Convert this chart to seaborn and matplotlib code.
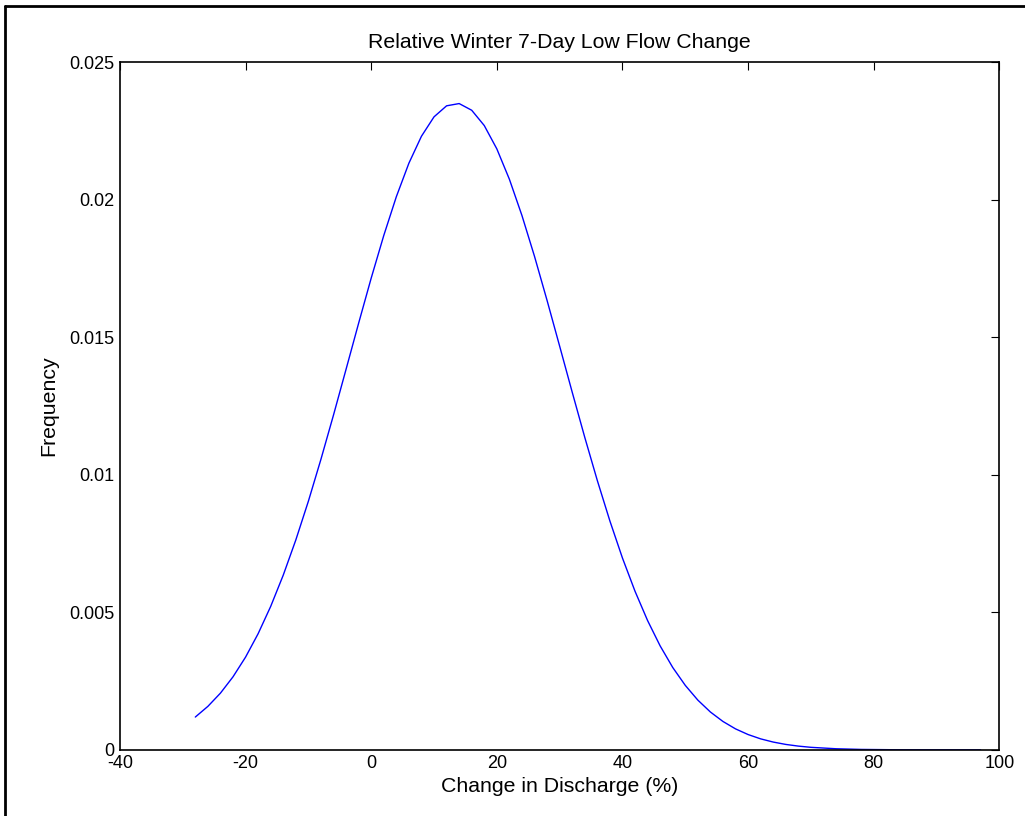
import matplotlib
matplotlib.use("Agg")
import matplotlib.pyplot as plt
import seaborn as sns
import pandas as pd
from matplotlib.lines import Line2D

# values
change_pct = [-28, -26, -24, -22, -20, -18, -16, -14, -12, -10, -8, -6, -4, -2,
              0, 2, 4, 6, 8, 10, 12, 14, 16, 18, 20, 22, 24, 26, 28, 30, 32,
              34, 36, 38, 40, 42, 44, 46, 48, 50, 52, 54, 56, 58, 60, 62, 64,
              66, 68, 70, 74, 78, 84, 90, 97]
frequency = [0.001194, 0.001582, 0.002063, 0.002656, 0.003372, 0.004223,
             0.005215, 0.006352, 0.007630, 0.009038, 0.010563, 0.012171,
             0.013834, 0.015508, 0.017146, 0.018694, 0.020104, 0.021322,
             0.022302, 0.023007, 0.023408, 0.023490, 0.023247, 0.022691,
             0.021843, 0.020739, 0.019420, 0.017935, 0.016333, 0.014673,
             0.013000, 0.011358, 0.009788, 0.008319, 0.006972, 0.005765,
             0.004700, 0.003779, 0.002996, 0.002345, 0.001809, 0.001377,
             0.001033, 0.000764, 0.000558, 0.000401, 0.000285, 0.000199,
             0.000138, 0.0000938, 0.0000418, 0.0000176, 0.0000043,
             0.0000009, 0.0000001]

x_ticks = [-40, -20, 0, 20, 40, 60, 80, 100]
y_ticks = [0, 0.005, 0.01, 0.015, 0.02, 0.025]
y_tick_labels = ["0", "0.005", "0.01", "0.015", "0.02", "0.025"]

df = pd.DataFrame({"change": change_pct, "freq": frequency})

sns.set_style("white")
plt.rcParams["font.family"] = ["Liberation Sans", "DejaVu Sans"]
plt.rcParams["text.color"] = "black"
plt.rcParams["axes.labelcolor"] = "black"

fig = plt.figure(figsize=(10.25, 8.16), dpi=100)
ax = fig.add_axes([0.117, 0.081, 0.858, 0.843])

sns.lineplot(data=df, x="change", y="freq", color="#0000ff", linewidth=1.0, ax=ax)

ax.set_xlim(-40, 100)
ax.set_ylim(0, 0.025)
ax.set_xticks(x_ticks)
ax.set_xticklabels([str(t) for t in x_ticks])
ax.set_yticks(y_ticks)
ax.set_yticklabels(y_tick_labels)
ax.tick_params(direction="in", length=6, width=0.8, top=True, right=True,
               labelsize=13, pad=4, colors="black")
for s in ax.spines.values():
    s.set_color("black")
    s.set_linewidth(1.2)

ax.set_title("Relative Winter 7-Day Low Flow Change", fontsize=15.3, pad=10, color="black")
ax.set_xlabel("Change in Discharge (%)", fontsize=15.3, labelpad=3, color="black")
ax.set_ylabel("Frequency", fontsize=15.3, labelpad=8, color="black")

# outer frame (left and top edge only visible)
fx = 5 / 1025
fy = 1 - 6 / 816
fig.add_artist(Line2D([fx, fx], [0, fy], transform=fig.transFigure, color="black", linewidth=2))
fig.add_artist(Line2D([fx, 1], [fy, fy], transform=fig.transFigure, color="black", linewidth=2))

fig.savefig("out.png", dpi=100, facecolor="white")
